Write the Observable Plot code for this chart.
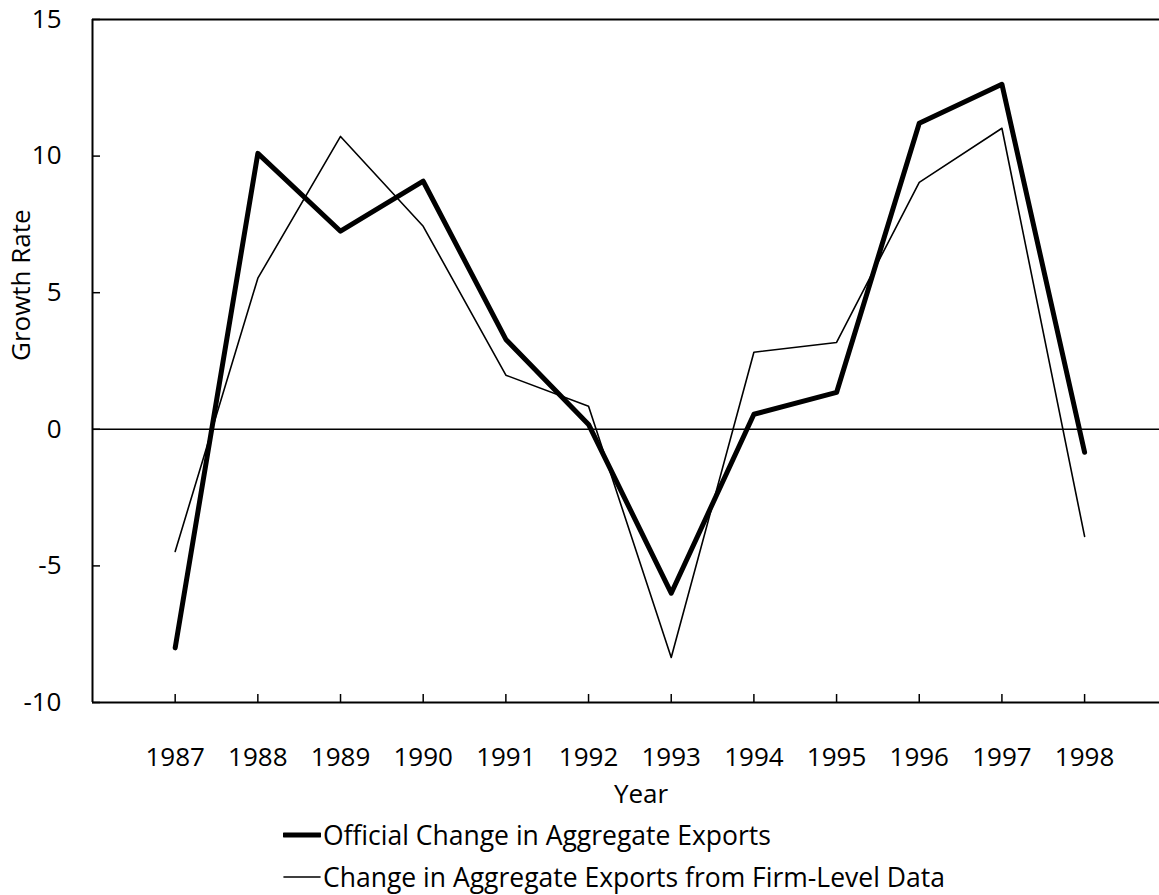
<!DOCTYPE html>
<html><head><meta charset="utf-8">
<script src="https://cdn.jsdelivr.net/npm/d3@7"></script>
<script src="https://cdn.jsdelivr.net/npm/@observablehq/plot@0.6"></script>
<style>
body{margin:0;background:#fff;font-family:"Open Sans",sans-serif;}
#wrap{position:relative;width:1159px;height:895px;overflow:hidden;}
.leg{position:absolute;left:283px;height:30px;display:flex;align-items:center;font-size:26.5px;color:#000;white-space:nowrap;}
.leg svg{margin-right:2px;}
</style></head><body><div id="wrap"></div>
<script>
const years = [1987,1988,1989,1990,1991,1992,1993,1994,1995,1996,1997,1998];
const official = [-8.0,10.1,7.25,9.08,3.29,0.18,-6.0,0.55,1.35,11.2,12.63,-0.84];
const firmLevel = [-4.47,5.53,10.72,7.43,1.98,0.84,-8.35,2.82,3.18,9.04,11.02,-3.92];
const yTicks = [-10,-5,0,5,10,15];
const seriesNames = ["Official Change in Aggregate Exports","Change in Aggregate Exports from Firm-Level Data"];
const seriesWidths = [5,1.6];
const xLabel = "Year", yLabel = "Growth Rate";

const rows = years.map((y,i)=>({year:y, official:official[i], firm:firmLevel[i]}));
const fmt = d => String(d);
const plot = Plot.plot({
  width:1159, height:820, marginLeft:92, marginRight:0, marginTop:19, marginBottom:118,
  style:{fontFamily:"Open Sans", fontSize:"26px", color:"#000", background:"#fff", overflow:"visible"},
  x:{domain:[1986, 1998.906]},
  y:{domain:[-10,15]},
  marks:[
    Plot.ruleX([1986], {stroke:"#000", strokeWidth:2}),
    Plot.ruleY([15,-10], {stroke:"#000", strokeWidth:2}),
    Plot.ruleY([0], {stroke:"#000", strokeWidth:1.5}),
    Plot.axisY({ticks:yTicks, tickSize:-8, text:null, label:null, strokeWidth:1.5}),
    Plot.axisY({ticks:yTicks, tickSize:0, tickPadding:31, tickFormat:fmt, label:null, fontSize:26}),
    Plot.axisX({ticks:years, tickSize:-8, text:null, label:null, strokeWidth:1.5}),
    Plot.axisX({ticks:years, tickSize:0, tickPadding:45, tickFormat:fmt, label:null, fontSize:26}),
    Plot.lineY(rows, {x:"year", y:"firm", stroke:"#000", strokeWidth:seriesWidths[1]}),
    Plot.lineY(rows, {x:"year", y:"official", stroke:"#000", strokeWidth:seriesWidths[0], strokeLinecap:"round", strokeLinejoin:"round"}),
    Plot.text([yLabel], {text:d=>d, frameAnchor:"left", dx:-71, rotate:-90, fontSize:26}),
    Plot.text([xLabel], {text:d=>d, frameAnchor:"bottom", dx:15, dy:100, fontSize:26})
  ]
});
const wrap = document.getElementById("wrap");
wrap.appendChild(plot);
const tops = [820, 862];
seriesNames.forEach((name,i)=>{
  const row = document.createElement("div");
  row.className = "leg";
  row.style.top = tops[i] + "px";
  row.innerHTML = `<svg width="38" height="10"><line x1="1" x2="37" y1="5" y2="5" stroke="#000" stroke-width="${seriesWidths[i]}" stroke-linecap="round"/></svg><span>${name}</span>`;
  wrap.appendChild(row);
});
</script></body></html>
